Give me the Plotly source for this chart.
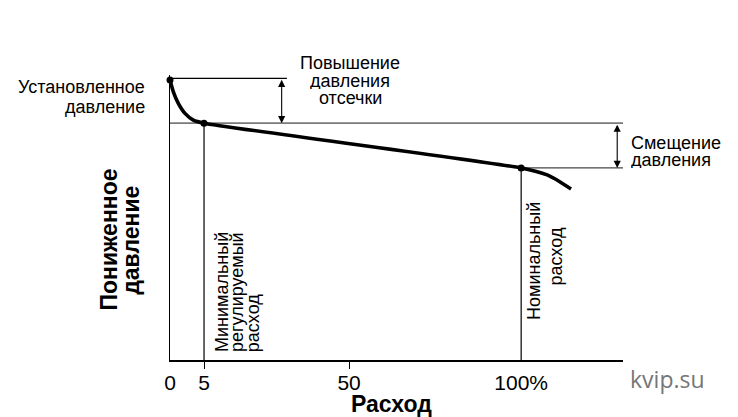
import plotly.graph_objects as go

# ---------------- data (schematic) ----------------
# x: flow position on the schematic axis, y: outlet (reduced) pressure, arbitrary units
tick_pos = [0, 9.69, 51.0, 100]
tick_text = ["0", "5", "50", "100%"]
minor_tick_pos = [9.69, 51.0]

curve_x = [0, 0.95, 2.37, 4.27, 6.64, 9.69, 100, 107.4, 111.1, 114.2]
curve_y = [100, 95.8, 91.7, 88.1, 85.7, 84.6, 68.6, 66.1, 63.6, 61.1]

key_x = [0, 9.69, 100]
key_y = [100, 84.6, 68.6]

set_level = 100.6
min_level = 84.6
nom_level = 68.6
x_min_flow = 9.69
x_nom_flow = 100
x_end = 129
y_top = 101.8
x_set_line_end = 33.3
x_lockup_arrow = 31.8
x_offset_arrow = 127.35

FONT = "Liberation Sans, Arial, sans-serif"

fig = go.Figure()

def seg(xs, ys, color="black", width=1.0):
    fig.add_trace(go.Scatter(x=xs, y=ys, mode="lines",
                             line=dict(color=color, width=width),
                             hoverinfo="skip", showlegend=False))

# reference lines
seg([0, x_set_line_end], [set_level, set_level], "black", 1.2)
seg([0, x_end], [min_level, min_level], "#7a7a7a", 1.6)
seg([x_nom_flow, x_end], [nom_level, nom_level], "#444444", 1.2)
seg([x_min_flow, x_min_flow], [min_level, 0], "black", 1.2)
seg([x_nom_flow, x_nom_flow], [nom_level, 0], "black", 1.2)

# main curve
fig.add_trace(go.Scatter(x=curve_x, y=curve_y, mode="lines",
                         line=dict(color="black", width=3.6, shape="spline", smoothing=0.6),
                         hoverinfo="skip", showlegend=False))
fig.add_trace(go.Scatter(x=key_x, y=key_y, mode="markers", cliponaxis=False,
                         marker=dict(color="black", size=7),
                         hoverinfo="skip", showlegend=False))

# invisible trace to activate the overlay axis carrying the small ticks
fig.add_trace(go.Scatter(x=[0], y=[0], mode="markers", marker=dict(opacity=0),
                         xaxis="x2", hoverinfo="skip", showlegend=False))

ann = []

def txt(text, x, y, size=18, xanchor="center", yanchor="middle", angle=0,
        bold=False, color="black", family=FONT, height=None):
    # positions given in data units, placed in paper space so they may sit outside the axes
    a = dict(text=("<b>%s</b>" % text) if bold else text,
             x=x / x_end, y=y / y_top,
             xref="paper", yref="paper", showarrow=False, xanchor=xanchor,
             yanchor=yanchor, textangle=angle, borderpad=0,
             font=dict(size=size, color=color, family=family))
    if height is not None:
        a["height"] = height
    ann.append(a)

txt("Установленное", -6.84, 97.5, xanchor="right")
txt("давление", -6.84, 90.4, xanchor="right")
txt("Повышение", 51.3, 106.4, height=17)
txt("давления", 51.3, 100.0, height=17)
txt("отсечки", 51.3, 93.6, height=17)
txt("Смещение", 130.9, 77.8, xanchor="left", height=17)
txt("давления", 130.9, 71.5, xanchor="left", height=17)
txt("Расход", 63.0, -15.7, size=23, bold=True)
txt("kvip.su", 141.7, -6.8, size=23, color="#767676", family="Open Sans, Liberation Sans, sans-serif")
txt("Пониженное", -17.4, 43.0, size=23, bold=True, angle=-90)
txt("давление", -11.0, 42.7, size=23, bold=True, angle=-90)
txt("Минимальный", 15.0, 2.4, angle=-90, yanchor="bottom")
txt("регулируемый", 19.3, 2.4, angle=-90, yanchor="bottom")
txt("расход", 23.6, 2.4, angle=-90, yanchor="bottom")
txt("Номинальный", 103.8, 35.2, angle=-90)
txt("расход", 109.8, 36.8, angle=-90)

for xa, y_hi, y_lo in [(x_lockup_arrow, set_level, min_level),
                       (x_offset_arrow, min_level, nom_level)]:
    ann.append(dict(text="", x=xa, y=y_lo, ax=xa, ay=y_hi, xref="x", yref="y",
                    axref="x", ayref="y", showarrow=True, arrowhead=2,
                    startarrowhead=2, arrowside="end+start", arrowsize=1.3,
                    startarrowsize=1.3, arrowwidth=1.1, arrowcolor="black",
                    standoff=0, startstandoff=0))

fig.update_layout(
    width=738, height=417,
    margin=dict(l=170, r=115, t=75, b=57),
    paper_bgcolor="white", plot_bgcolor="white",
    showlegend=False, hovermode=False,
    font=dict(family=FONT, color="black"),
    annotations=ann,
    xaxis=dict(range=[0, x_end], showline=True, linecolor="black", linewidth=1.5,
               showgrid=False, zeroline=False, tickmode="array",
               tickvals=tick_pos, ticktext=tick_text, ticks="outside",
               ticklen=3, tickcolor="rgba(0,0,0,0)",
               tickfont=dict(size=21, family=FONT, color="black")),
    xaxis2=dict(range=[0, x_end], overlaying="x", anchor="y", side="bottom",
                tickmode="array", tickvals=minor_tick_pos, ticks="outside",
                ticklen=8, tickwidth=1.2, tickcolor="black",
                showticklabels=False, showgrid=False, zeroline=False, showline=False),
    yaxis=dict(range=[0, y_top], showline=True, linecolor="black", linewidth=1.2,
               showgrid=False, zeroline=False, showticklabels=False, ticks=""),
)

fig.write_html("out.html")
